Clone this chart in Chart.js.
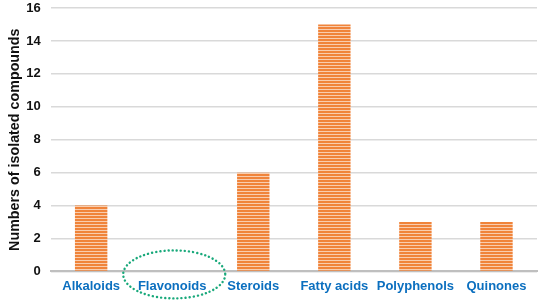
<!DOCTYPE html>
<html>
<head>
<meta charset="utf-8">
<script src="https://cdn.jsdelivr.net/npm/chart.js@4.4.0/dist/chart.umd.min.js"></script>
<style>
  html, body { margin: 0; padding: 0; background: #fff; }
  #wrap { width: 543px; height: 300px; }
</style>
</head>
<body>
<div id="wrap"><canvas id="chart"></canvas></div>
<script>
const categories = ['Alkaloids', 'Flavonoids', 'Steroids', 'Fatty acids', 'Polyphenols', 'Quinones'];
const compounds = [4, 0, 6, 15, 3, 3];
const yTitle = 'Numbers of isolated compounds';
const circledCategory = 'Flavonoids';

// horizontal striped orange fill
function stripes() {
    const c = document.createElement('canvas');
    c.width = 4;
    c.height = 3;
    const g = c.getContext('2d');
    g.fillStyle = '#F0843A';
    g.fillRect(0, 0, 4, 2);
    g.fillStyle = '#F9CDAE';
    g.fillRect(0, 2, 4, 1);
    return g.createPattern(c, 'repeat');
}

const ellipsePlugin = {
    id: 'ellipse',
    afterDraw(chart) {
        const x = chart.scales.x;
        const y = chart.scales.y;
        const i = categories.indexOf(circledCategory);
        const cx = x.getPixelForValue(i) + 2;
        const cy = y.bottom + 3;
        const ctx = chart.ctx;
        ctx.save();
        ctx.strokeStyle = '#19A97B';
        ctx.lineWidth = 2.4;
        ctx.setLineDash([0.1, 4]);
        ctx.lineCap = 'round';
        ctx.beginPath();
        ctx.ellipse(cx, cy, 51, 24, 0, 0, Math.PI * 2);
        ctx.stroke();
        ctx.restore();
    }
};

const ctx = document.getElementById('chart').getContext('2d');
const chart = new Chart(ctx, {
    type: 'bar',
    data: {
        labels: categories,
        datasets: [{
            data: compounds,
            backgroundColor: stripes(),
            borderWidth: 0,
            categoryPercentage: 1,
            barPercentage: 0.4
        }]
    },
    options: {
        responsive: true,
        maintainAspectRatio: false,
        animation: false,
        layout: { padding: { top: 8, right: 6, bottom: -1, left: 0 } },
        plugins: {
            legend: { display: false },
            tooltip: { enabled: false }
        },
        scales: {
            x: {
                grid: { display: false, drawTicks: false },
                border: { color: '#BFBFBF', width: 2 },
                ticks: {
                    color: '#0B6FBF',
                    padding: 7,
                    maxRotation: 0,
                    autoSkip: false,
                    font: { family: 'Liberation Sans, Arial', size: 13, weight: 'bold' }
                }
            },
            y: {
                min: 0,
                max: 16,
                afterFit(scale) {
                    scale.width -= 11;
                    scale.paddingTop = 0;
                },
                ticks: {
                    stepSize: 2,
                    color: '#111',
                    padding: 10,
                    font: { family: 'Liberation Sans, Arial', size: 13, weight: 'bold' }
                },
                grid: { color: '#D9D9D9', lineWidth: 1.5, drawTicks: false },
                border: { display: false },
                title: {
                    display: true,
                    text: yTitle,
                    color: '#111',
                    padding: { top: 6, bottom: 4 },
                    font: { family: 'Liberation Sans, Arial', size: 14.3, weight: 'bold' }
                }
            }
        }
    },
    plugins: [ellipsePlugin]
});
</script>
</body>
</html>
